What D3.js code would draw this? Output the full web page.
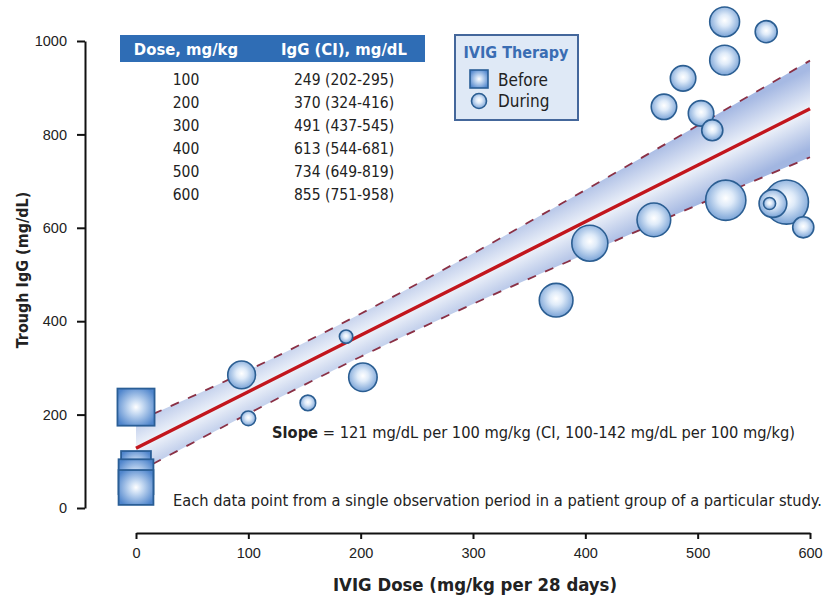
<!DOCTYPE html>
<html>
<head>
<meta charset="utf-8">
<script src="https://cdn.jsdelivr.net/npm/d3@7"></script>
<style>
body { margin: 0; background: #fff; }
svg { display: block; font-family: "DejaVu Sans Condensed", "DejaVu Sans", sans-serif; }
.axis path, .axis line { stroke: #111; stroke-width: 2; }
.axis text { font-size: 14.5px; fill: #222; }
</style>
</head>
<body>
<svg id="chart"></svg>
<script>
"use strict";
// table in the top left corner
const tableDose = [100, 200, 300, 400, 500, 600];
const tableIgG  = [249, 370, 491, 613, 734, 855];
const tableLow  = [202, 324, 437, 544, 649, 751];
const tableHigh = [295, 416, 545, 681, 819, 958];

// regression line and CI band, dose 0 values
const fitDose = [0, 100, 200, 300, 400, 500, 600];
const fitMean = [128, 249, 370, 491, 613, 734, 855];
const fitLow  = [75, 202, 324, 437, 544, 649, 751];
const fitHigh = [185, 295, 416, 545, 681, 819, 958];

// "During" observations: dose, trough IgG, relative group size
const duringDose = [524, 561, 524, 487, 470, 503, 513, 404, 461, 525, 579, 567, 564, 594, 374, 187, 94, 202, 153, 100];
const duringIgG  = [1041, 1020, 959, 920, 859, 845, 809, 567, 617, 659, 655, 652, 652, 601, 445, 367, 285, 280, 225, 192];
const duringN    = [22, 12, 22, 16, 16, 16, 11, 32, 28, 40, 48, 19, 3.6, 11, 28, 4.4, 19, 20, 6, 5.3];

// "Before" observations
const beforeDose = [0, 0, 0, 0];
const beforeIgG  = [216, 90, 67, 44];
const beforeN    = [34, 22, 30, 30];

const xTicks = [0, 100, 200, 300, 400, 500, 600];
const yTicks = [0, 200, 400, 600, 800, 1000];

const W = 827, H = 599;
const svg = d3.select("#chart").attr("width", W).attr("height", H);

const x = d3.scaleLinear().domain([0, 600]).range([136, 810]);
const y = d3.scaleLinear().domain([0, 1000]).range([508, 41]);
const r = d3.scaleSqrt().domain([0, 50]).range([0, 22.5]);

const defs = svg.append("defs");

// tube shading across the CI band, perpendicular to the fit line
const p0 = [x(0), y(fitMean[0])], p1 = [x(600), y(fitMean[6])];
const len = Math.hypot(p1[0] - p0[0], p1[1] - p0[1]);
const nx = -(p1[1] - p0[1]) / len, ny = (p1[0] - p0[0]) / len;
const mid = [x(500), y(734)];
const half = (y(649) - y(819)) / 2 * ny;
const bandGrad = defs.append("linearGradient")
    .attr("id", "bandGrad")
    .attr("gradientUnits", "userSpaceOnUse")
    .attr("x1", mid[0] - nx * half).attr("y1", mid[1] - ny * half)
    .attr("x2", mid[0] + nx * half).attr("y2", mid[1] + ny * half);
bandGrad.append("stop").attr("offset", 0).attr("stop-color", "#a6b9e3");
bandGrad.append("stop").attr("offset", 0.5).attr("stop-color", "#eff3fa");
bandGrad.append("stop").attr("offset", 1).attr("stop-color", "#a2b6e1");

const bubble = defs.append("radialGradient").attr("id", "bubble")
    .attr("cx", "50%").attr("cy", "45%").attr("r", "55%");
bubble.append("stop").attr("offset", 0).attr("stop-color", "#ffffff");
bubble.append("stop").attr("offset", 0.35).attr("stop-color", "#dfebf9");
bubble.append("stop").attr("offset", 1).attr("stop-color", "#7ba4d7");

const boxGrad = defs.append("radialGradient").attr("id", "boxGrad")
    .attr("cx", "50%").attr("cy", "50%").attr("r", "60%");
boxGrad.append("stop").attr("offset", 0).attr("stop-color", "#ffffff");
boxGrad.append("stop").attr("offset", 0.3).attr("stop-color", "#c9dcf3");
boxGrad.append("stop").attr("offset", 1).attr("stop-color", "#4f85cc");

// CI band
const band = fitDose.map((d, i) => ({dose: d, lo: fitLow[i], hi: fitHigh[i], mean: fitMean[i]}));
svg.append("path")
    .datum(band)
    .attr("fill", "url(#bandGrad)")
    .attr("d", d3.area().curve(d3.curveMonotoneX)
        .x(d => x(d.dose)).y0(d => y(d.lo)).y1(d => y(d.hi)));

["lo", "hi"].forEach(k => {
    svg.append("path")
        .datum(band)
        .attr("fill", "none")
        .attr("stroke", "#8a3045")
        .attr("stroke-width", 1.8)
        .attr("stroke-dasharray", "9,10")
        .attr("d", d3.line().curve(d3.curveMonotoneX).x(d => x(d.dose)).y(d => y(d[k])));
});

svg.append("path")
    .datum(band)
    .attr("fill", "none")
    .attr("stroke", "#c2161d")
    .attr("stroke-width", 3.5)
    .attr("d", d3.line().x(d => x(d.dose)).y(d => y(d.mean)));

// axes
svg.append("g").attr("class", "axis")
    .attr("transform", "translate(85,0)")
    .call(d3.axisLeft(y).tickValues(yTicks).tickFormat(d3.format("d"))
        .tickSize(8).tickSizeOuter(0).tickPadding(10));

svg.append("g").attr("class", "axis")
    .attr("transform", "translate(0,533)")
    .call(d3.axisBottom(x).tickValues(xTicks).tickFormat(d3.format("d"))
        .tickSize(6).tickSizeOuter(0).tickPadding(9));

svg.append("text")
    .attr("transform", "translate(22,270) rotate(-90)")
    .attr("text-anchor", "middle").attr("dy", "0.35em")
    .style("font-size", "16px").style("font-weight", "bold").attr("fill", "#222")
    .text("Trough IgG (mg/dL)");
svg.append("text")
    .attr("x", 475).attr("y", 591)
    .attr("text-anchor", "middle")
    .style("font-size", "18.4px").style("font-weight", "bold").attr("fill", "#222")
    .text("IVIG Dose (mg/kg per 28 days)");

// before squares
const before = beforeDose.map((d, i) => ({dose: d, igg: beforeIgG[i], n: beforeN[i]}));
svg.selectAll(".before")
    .data(before)
  .enter().append("rect")
    .attr("class", "before")
    .attr("x", d => x(d.dose) - r(d.n))
    .attr("y", d => y(d.igg) - r(d.n))
    .attr("width", d => 2 * r(d.n))
    .attr("height", d => 2 * r(d.n))
    .attr("fill", "url(#boxGrad)")
    .attr("stroke", "#2a5e96").attr("stroke-width", 1.8);

// during circles, big ones first
const during = duringDose.map((d, i) => ({dose: d, igg: duringIgG[i], n: duringN[i]}))
    .sort((a, b) => b.n - a.n);
svg.selectAll(".during")
    .data(during)
  .enter().append("circle")
    .attr("class", "during")
    .attr("cx", d => x(d.dose))
    .attr("cy", d => y(d.igg))
    .attr("r", d => r(d.n))
    .attr("fill", "url(#bubble)")
    .attr("stroke", "#2b5e92").attr("stroke-width", 1.6);

// table
const table = svg.append("g");
table.append("rect")
    .attr("x", 120).attr("y", 35).attr("width", 305).attr("height", 27)
    .attr("fill", "#2f6db5");
table.append("text").attr("x", 186).attr("y", 54.5).attr("text-anchor", "middle")
    .style("font-size", "16.5px").style("font-weight", "bold").attr("fill", "#fff")
    .text("Dose, mg/kg");
table.append("text").attr("x", 344).attr("y", 54.5).attr("text-anchor", "middle")
    .style("font-size", "16.5px").style("font-weight", "bold").attr("fill", "#fff")
    .text("IgG (CI), mg/dL");
tableDose.forEach((d, i) => {
    const yy = 79 + i * 23 + 6;
    table.append("text").attr("x", 186).attr("y", yy).attr("text-anchor", "middle")
        .style("font-size", "15.5px").attr("fill", "#222").text(d);
    table.append("text").attr("x", 344).attr("y", yy).attr("text-anchor", "middle")
        .style("font-size", "15.5px").attr("fill", "#222")
        .text(`${tableIgG[i]} (${tableLow[i]}-${tableHigh[i]})`);
});

// legend
const legend = svg.append("g");
legend.append("rect")
    .attr("x", 455).attr("y", 35).attr("width", 123).attr("height", 85)
    .attr("fill", "#dfe9f6").attr("stroke", "#44679b").attr("stroke-width", 2);
legend.append("text").attr("x", 516).attr("y", 58).attr("text-anchor", "middle")
    .style("font-size", "16px").style("font-weight", "bold").attr("fill", "#3a6db3")
    .text("IVIG Therapy");
legend.append("rect")
    .attr("x", 470).attr("y", 70).attr("width", 18).attr("height", 18)
    .attr("fill", "url(#boxGrad)").attr("stroke", "#2a5e96").attr("stroke-width", 1.6);
legend.append("text").attr("x", 498).attr("y", 85.5)
    .style("font-size", "17px").attr("fill", "#222").text("Before");
legend.append("circle")
    .attr("cx", 479).attr("cy", 101).attr("r", 7.5)
    .attr("fill", "url(#bubble)").attr("stroke", "#2b5e92").attr("stroke-width", 1.6);
legend.append("text").attr("x", 498).attr("y", 107)
    .style("font-size", "17px").attr("fill", "#222").text("During");

// annotations
const slope = svg.append("text").attr("x", 272).attr("y", 438)
    .style("font-size", "16.3px").attr("fill", "#222");
slope.append("tspan").style("font-weight", "bold").text("Slope");
slope.append("tspan").text(" = 121 mg/dL per 100 mg/kg (CI, 100-142 mg/dL per 100 mg/kg)");

svg.append("text").attr("x", 173).attr("y", 506)
    .style("font-size", "16.3px").attr("fill", "#222")
    .text("Each data point from a single observation period in a patient group of a particular study.");
</script>
</body>
</html>
